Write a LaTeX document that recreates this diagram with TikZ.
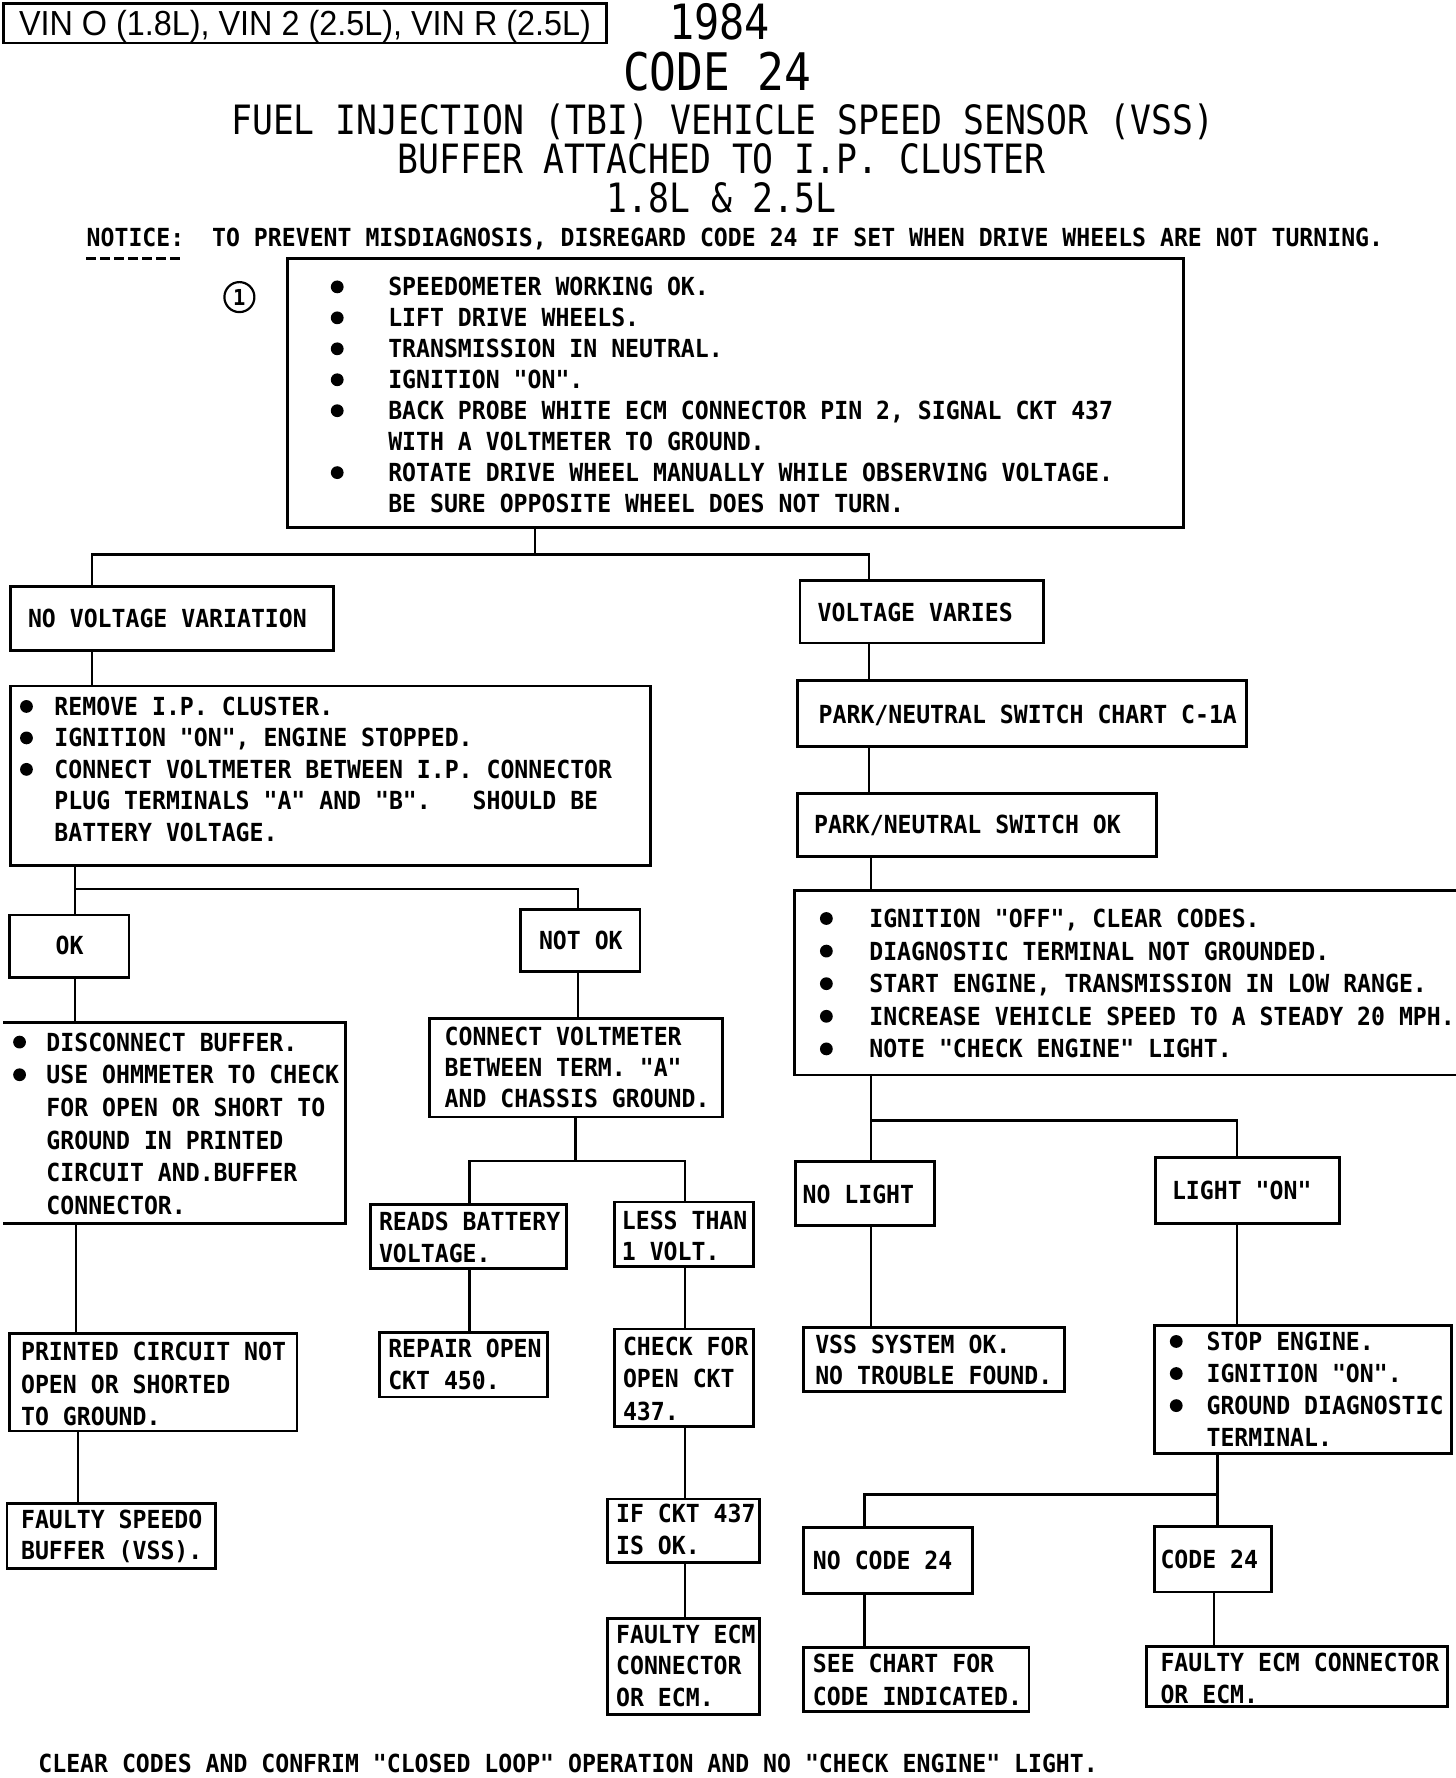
\documentclass[tikz,border=0pt]{standalone}
\usepackage{fontspec}
\newfontfamily\pf[FakeStretch=0.93]{DejaVu Sans Mono}
\newfontfamily\tf[FakeStretch=0.86]{DejaVu Sans Mono}
\newfontfamily\vf[FakeStretch=0.93]{Liberation Sans}
\frenchspacing
\newcommand\bxx[6][bx]{\node[#1,minimum width={(#5-#3)*0.5755pt},minimum height={(#6-#4)*0.567pt}] (#2) at (#3,#4) {};}
\newcommand\lns[5]{\foreach \t [count=\i] in {#5} {\node[tx] (#1-\i) at (#2,{#3+(\i-1)*#4}) {\t};}}
\newcommand\buls[4]{\foreach \k in {#4} {\fill ({#1},{#2+(\k-1)*#3}) circle (3.2pt);}}
\begin{document}
\begin{tikzpicture}[x=0.5755pt,y=-0.567pt,
  bx/.style={draw,line width=1.4pt,rectangle,inner sep=0pt,outer sep=0pt,anchor=north west},
  obx/.style={rectangle,inner sep=0pt,outer sep=0pt,anchor=north west},
  cn/.style={line width=1.2pt},
  tx/.style={anchor=west,inner sep=0pt,font={\pf\bfseries\fontsize{12.45pt}{15pt}\selectfont\frenchspacing},text height=9.07pt,text depth=0pt},
  ttl/.style={anchor=center,inner sep=0pt,text depth=0pt}]
\fill[white] (0,0) rectangle (1265,1568);
\useasboundingbox (0,0) rectangle (1265,1568);

% header
\bxx{vin}{3}{3}{527}{38}
\node[inner sep=0pt,font={\vf\fontsize{17.4pt}{20pt}\selectfont},text height=12.5pt,text depth=0pt] (vint) at (vin.center) {VIN O (1.8L), VIN 2 (2.5L), VIN R (2.5L)};
\node[ttl,font={\tf\fontsize{24.3pt}{28pt}\selectfont},text height=17.7pt] (yr) at (625,19) {1984};
\node[ttl,font={\tf\fontsize{25.9pt}{30pt}\selectfont},text height=18.9pt] (code) at (623,63) {CODE 24};
\node[ttl,font={\tf\fontsize{20.2pt}{24pt}\selectfont},text height=14.7pt] (t1) at (628,106) {FUEL INJECTION (TBI) VEHICLE SPEED SENSOR (VSS)};
\node[ttl,font={\tf\fontsize{20.2pt}{24pt}\selectfont},text height=14.7pt] (t2) at (627,140) {BUFFER ATTACHED TO I.P. CLUSTER};
\node[ttl,font={\tf\fontsize{20.2pt}{24pt}\selectfont},text height=14.7pt] (t3) at (627,174) {1.8L \& 2.5L};
\node[tx] (notice) at (75,209) {NOTICE:~~TO PREVENT MISDIAGNOSIS, DISREGARD CODE 24 IF SET WHEN DRIVE WHEELS ARE NOT TURNING.};
\draw[line width=1.3pt,dash pattern=on 5pt off 2pt] (75,228) -- (157,228);
\node[circle,draw,line width=1.1pt,minimum size=15pt,inner sep=0pt,font={\pf\bfseries\fontsize{11pt}{13pt}\selectfont}] (num) at (208,262) {1};

% boxes
\bxx{top}{250}{228}{1028}{465}
\bxx{nvv}{9}{517}{290}{574}
\bxx{vv}{695}{512}{907}{567}
\bxx{rem}{9}{605}{565}{763}
\bxx{ok}{8}{807}{112}{862}
\bxx{nok}{452}{802}{556}{857}
\bxx[obx]{disc}{3}{902}{300}{1079}
\draw[line width=1.4pt] (disc.north west) -- (disc.north east) -- (disc.south east) -- (disc.south west);
\bxx{prc}{8}{1176}{258}{1262}
\bxx{spd}{6}{1326}{187}{1383}
\bxx{cv}{373}{898}{628}{985}
\bxx{rb}{322}{1062}{492}{1119}
\bxx{lt}{534}{1060}{655}{1117}
\bxx{rep}{330}{1175}{476}{1232}
\bxx{chk}{534}{1172}{655}{1258}
\bxx{ifc}{528}{1322}{660}{1378}
\bxx{fecm}{528}{1427}{660}{1512}
\bxx{pn}{693}{600}{1083}{658}
\bxx{pok}{693}{700}{1005}{755}
\bxx[obx]{ign}{690}{785}{1268}{948}
\draw[line width=1.4pt] (ign.north east) -- (ign.north west) -- (ign.south west) -- (ign.south east);
\bxx{nol}{691}{1024}{812}{1081}
\bxx{lon}{1004}{1021}{1164}{1079}
\bxx{vss}{698}{1171}{925}{1227}
\bxx{stop}{1003}{1169}{1261}{1282}
\bxx{noc}{698}{1347}{845}{1405}
\bxx{ctf}{1003}{1346}{1105}{1404}
\bxx{see}{698}{1453}{894}{1509}
\bxx{fec2}{996}{1452}{1258}{1505}

% texts
\lns{topt}{337}{253}{27.3}{{SPEEDOMETER WORKING OK.},{LIFT DRIVE WHEELS.},{TRANSMISSION IN NEUTRAL.},{IGNITION "ON".},{BACK PROBE WHITE ECM CONNECTOR PIN 2, SIGNAL CKT 437},{WITH A VOLTMETER TO GROUND.},{ROTATE DRIVE WHEEL MANUALLY WHILE OBSERVING VOLTAGE.},{BE SURE OPPOSITE WHEEL DOES NOT TURN.}}
\buls{293}{253}{27.3}{1,2,3,4,5,7}
\lns{nvvt}{24}{545}{28}{{NO VOLTAGE VARIATION}}
\lns{vvt}{710}{540}{28}{{VOLTAGE VARIES}}
\lns{remt}{47}{623}{27.75}{{REMOVE I.P. CLUSTER.},{IGNITION "ON", ENGINE STOPPED.},{CONNECT VOLTMETER BETWEEN I.P. CONNECTOR},{PLUG TERMINALS "A" AND "B".~~~SHOULD BE},{BATTERY VOLTAGE.}}
\buls{23}{623}{27.75}{1,2,3}
\lns{okt}{48}{834}{28}{{OK}}
\lns{nokt}{468}{829}{28}{{NOT OK}}
\lns{disct}{40}{919}{28.8}{{DISCONNECT BUFFER.},{USE OHMMETER TO CHECK},{FOR OPEN OR SHORT TO},{GROUND IN PRINTED},{CIRCUIT AND.BUFFER},{CONNECTOR.}}
\buls{17}{919}{28.8}{1,2}
\lns{prct}{18}{1192}{28.5}{{PRINTED CIRCUIT NOT},{OPEN OR SHORTED},{TO GROUND.}}
\lns{spdt}{18}{1340}{27}{{FAULTY SPEEDO},{BUFFER (VSS).}}
\lns{cvt}{386}{914}{27.5}{{CONNECT VOLTMETER},{BETWEEN TERM. "A"},{AND CHASSIS GROUND.}}
\lns{rbt}{329}{1077}{28}{{READS BATTERY},{VOLTAGE.}}
\lns{ltt}{540}{1076}{28}{{LESS THAN},{1 VOLT.}}
\lns{rept}{337}{1189}{28}{{REPAIR OPEN},{CKT 450.}}
\lns{chkt}{541}{1187}{29}{{CHECK FOR},{OPEN CKT},{437.}}
\lns{ifct}{535}{1335}{28}{{IF CKT 437},{IS OK.}}
\lns{fecmt}{535}{1441}{28}{{FAULTY ECM},{CONNECTOR},{OR ECM.}}
\lns{pnt}{711}{630}{28}{{PARK/NEUTRAL SWITCH CHART C-1A}}
\lns{pokt}{707}{727}{28}{{PARK/NEUTRAL SWITCH OK}}
\lns{ignt}{755}{810}{28.75}{{IGNITION "OFF", CLEAR CODES.},{DIAGNOSTIC TERMINAL NOT GROUNDED.},{START ENGINE, TRANSMISSION IN LOW RANGE.},{INCREASE VEHICLE SPEED TO A STEADY 20 MPH.},{NOTE "CHECK ENGINE" LIGHT.}}
\buls{718}{810}{28.75}{1,2,3,4,5}
\lns{nolt}{697}{1053}{28}{{NO LIGHT}}
\lns{lont}{1018}{1050}{28}{{LIGHT "ON"}}
\lns{vsst}{708}{1186}{27}{{VSS SYSTEM OK.},{NO TROUBLE FOUND.}}
\lns{stopt}{1048}{1183}{28.3}{{STOP ENGINE.},{IGNITION "ON".},{GROUND DIAGNOSTIC},{TERMINAL.}}
\buls{1022}{1183}{28.3}{1,2,3}
\lns{noct}{706}{1376}{28}{{NO CODE 24}}
\lns{ctft}{1008}{1375}{28}{{CODE 24}}
\lns{seet}{706}{1467}{29}{{SEE CHART FOR},{CODE INDICATED.}}
\lns{fec2t}{1008}{1466}{28}{{FAULTY ECM CONNECTOR},{OR ECM.}}
\node[tx] (bottom) at (33,1555) {CLEAR CODES AND CONFRIM "CLOSED LOOP" OPERATION AND NO "CHECK ENGINE" LIGHT.};

% connectors
\coordinate (a0) at (465,489);
\coordinate (a1) at (80,489);
\coordinate (a2) at (755,489);
\draw[cn] (top.south -| a0) -- (a0);
\draw[cn] (nvv.north -| a1) -- (a1) -- (a2) -- (vv.north -| a2);
\draw[cn] (nvv.south -| a1) -- (rem.north -| a1);
\coordinate (b1) at (65,784);
\coordinate (b2) at (502,784);
\draw[cn] (rem.south -| b1) -- (ok.north -| b1);
\draw[cn] (b1) -- (b2) -- (nok.north -| b2);
\draw[cn] (ok.south -| b1) -- (disc.north -| b1);
\coordinate (x66) at (66,0);
\draw[cn] (disc.south -| x66) -- (prc.north -| x66);
\coordinate (x68) at (68,0);
\draw[cn] (prc.south -| x68) -- (spd.north -| x68);
\draw[cn] (nok.south -| b2) -- (cv.north -| b2);
\coordinate (c1) at (500,1024);
\coordinate (c2) at (408,1024);
\coordinate (c3) at (595,1024);
\draw[cn] (cv.south -| c1) -- (c1);
\draw[cn] (rb.north -| c2) -- (c2) -- (c3) -- (lt.north -| c3);
\draw[cn] (rb.south -| c2) -- (rep.north -| c2);
\draw[cn] (lt.south -| c3) -- (chk.north -| c3);
\draw[cn] (chk.south -| c3) -- (ifc.north -| c3);
\draw[cn] (ifc.south -| c3) -- (fecm.north -| c3);
\coordinate (x755) at (755,0);
\draw[cn] (vv.south -| x755) -- (pn.north -| x755);
\draw[cn] (pn.south -| x755) -- (pok.north -| x755);
\coordinate (d1) at (757,988);
\coordinate (d2) at (1075,988);
\draw[cn] (pok.south -| d1) -- (ign.north -| d1);
\draw[cn] (ign.south -| d1) -- (d1) -- (d2) -- (lon.north -| d2);
\draw[cn] (d1) -- (nol.north -| d1);
\draw[cn] (nol.south -| d1) -- (vss.north -| d1);
\draw[cn] (lon.south -| d2) -- (stop.north -| d2);
\coordinate (e1) at (1058,1318);
\coordinate (e2) at (751,1318);
\draw[cn] (stop.south -| e1) -- (e1) -- (ctf.north -| e1);
\draw[cn] (e1) -- (e2) -- (noc.north -| e2);
\draw[cn] (noc.south -| e2) -- (see.north -| e2);
\coordinate (x1055) at (1055,0);
\draw[cn] (ctf.south -| x1055) -- (fec2.north -| x1055);
\end{tikzpicture}
\end{document}
